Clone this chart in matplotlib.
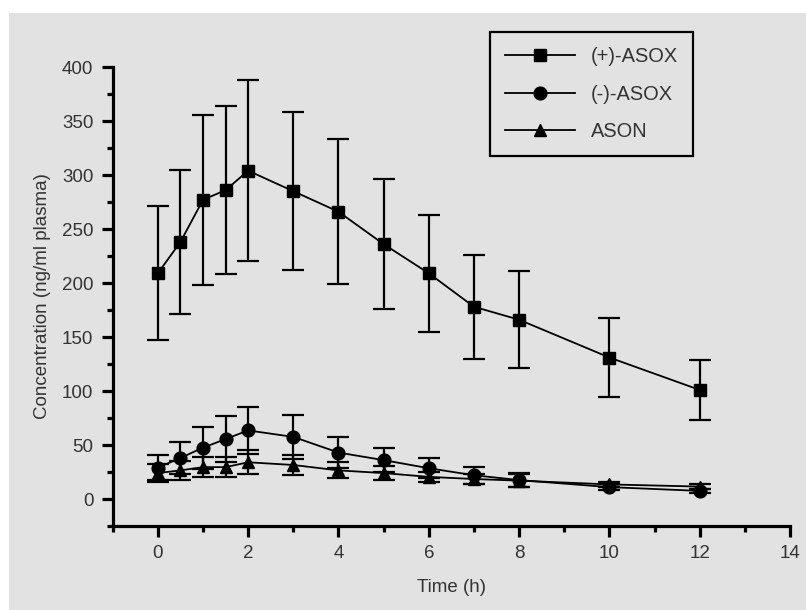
import matplotlib
matplotlib.use("Agg")
import matplotlib.pyplot as plt
from matplotlib.patches import Rectangle
from matplotlib.ticker import MultipleLocator

plt.rcParams['font.family'] = ['Liberation Sans', 'DejaVu Sans']

time_h = [0, 0.5, 1, 1.5, 2, 3, 4, 5, 6, 7, 8, 10, 12]
plus_asox = [209, 238, 277, 286, 304, 285, 266, 236, 209, 178, 166, 131, 101]
plus_asox_err = [62, 67, 79, 78, 84, 73, 67, 60, 54, 48, 45, 37, 28]
minus_asox = [29, 38, 47.5, 55.5, 63.5, 57.5, 43, 36, 28.5, 22, 17.5, 11, 7.5]
minus_asox_err = [11.5, 14.6, 19.5, 21.5, 22, 20, 14, 11.2, 9.3, 7.7, 6.3, 2.5, 2]
ason = [24, 26.5, 29.5, 29.5, 34, 31.5, 26.5, 24, 20.5, 18.5, 17, 13.5, 11.5]
ason_err = [8, 8.5, 9, 9.5, 11, 9.5, 7.3, 6.6, 4.5, 5, 5.8, 2, 2]

series_labels = ['(+)-ASOX', '(-)-ASOX', 'ASON']
x_ticks = [0, 2, 4, 6, 8, 10, 12, 14]
y_ticks = [0, 50, 100, 150, 200, 250, 300, 350, 400]

BG = '#e2e2e2'
TXT = '#333333'

fig = plt.figure(figsize=(8.06, 6.10), dpi=100, facecolor='white')
fig.patches.append(Rectangle((9/806, 0), 1, 1 - 13/610, transform=fig.transFigure,
                             facecolor=BG, edgecolor='none', zorder=-10))
ax = fig.add_axes([112.7/806, 1 - 526/610, (790 - 112.7)/806, (526 - 67)/610])
ax.set_facecolor('none')

common = dict(color='black', lw=1.3, elinewidth=1.6, capsize=8, capthick=1.6,
              markersize=9.2, clip_on=False)
handles = []
for y, e, m, lab in [(plus_asox, plus_asox_err, 's', series_labels[0]),
                     (minus_asox, minus_asox_err, 'o', series_labels[1]),
                     (ason, ason_err, '^', series_labels[2])]:
    cont = ax.errorbar(time_h, y, yerr=e, fmt='-' + m, label=lab, **common)
    handles.append(cont[0])

ax.set_xlim(-1, 14)
ax.set_ylim(-25, 400)
ax.set_xticks(x_ticks)
ax.set_yticks(y_ticks)
ax.xaxis.set_minor_locator(MultipleLocator(1))
ax.yaxis.set_minor_locator(MultipleLocator(25))
for s in ['top', 'right']:
    ax.spines[s].set_visible(False)
for s in ['left', 'bottom']:
    ax.spines[s].set_linewidth(2.3)
ax.tick_params(which='major', length=8, width=2.3, direction='out', labelsize=13.5,
               labelcolor=TXT, pad=6)
ax.tick_params(which='minor', length=4.5, width=2.3, direction='out')

ax.set_xlabel('Time (h)', fontsize=13.5, color=TXT, labelpad=12)
ax.set_ylabel('Concentration (ng/ml plasma)', fontsize=13.5, color=TXT, labelpad=8)

leg = ax.legend(handles=handles, labels=series_labels, loc='upper left',
                bbox_to_anchor=(0.557, 1.076), borderaxespad=0,
                fontsize=14.4, handlelength=3.5, handletextpad=0.8, labelspacing=0.93,
                frameon=True, fancybox=False, facecolor=BG, edgecolor='black',
                framealpha=1, borderpad=0.75)
leg.get_frame().set_linewidth(1.6)
for t in leg.get_texts():
    t.set_color(TXT)

fig.savefig('out.png', dpi=100, facecolor='white')
